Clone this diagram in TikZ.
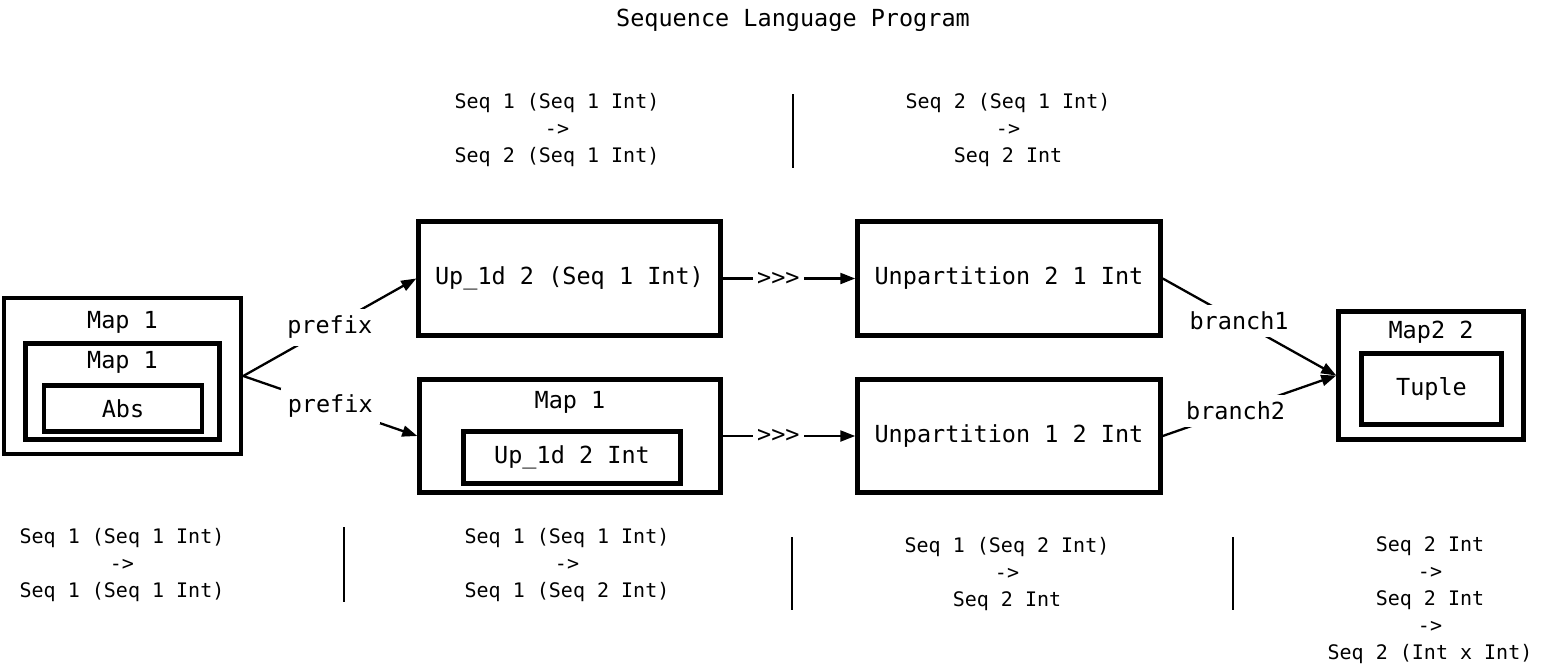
\documentclass[tikz,border=0pt]{standalone}
\usepackage{fontspec}
\newfontfamily\monofam{DejaVu Sans Mono}
\usetikzlibrary{arrows.meta}
\tikzset{
  box/.style={draw=black, line width=4.5pt, rectangle, inner sep=0pt, font=\monofam\fontsize{23.5}{28}\selectfont},
  lbl/.style={inner sep=0pt, font=\monofam\fontsize{23.5}{28}\selectfont},
  conn/.style={line width=2.3pt, -{Triangle[length=15pt,width=11pt]}},
  edgelbl/.style={fill=white, inner sep=7pt, font=\monofam\fontsize{23.5}{28}\selectfont},
  note/.style={align=center, inner sep=0pt, font=\monofam\fontsize{20}{27}\selectfont},
  sep/.style={line width=2pt}
}
\begin{document}
\begin{tikzpicture}[x=1pt,y=-1pt]
\useasboundingbox[fill=white] (0,0) rectangle (1545,672);

\node[lbl] (title) at (793,20) {Sequence Language Program};

% left nested Map boxes
\node[box, minimum width=237pt, minimum height=156pt] (outerMap) at (122.5,376) {};
\node[lbl] (outerMapL) at (122.5,322) {Map 1};
\node[box, minimum width=194pt, minimum height=96pt] (innerMap) at (122.5,391.5) {};
\node[lbl] (innerMapL) at (122.5,362) {Map 1};
\node[box, minimum width=158pt, minimum height=46pt] (abs) at (123,408.5) {Abs};

% upper path
\node[box, minimum width=302pt, minimum height=114pt] (up) at (569.5,278.5) {Up\_1d 2 (Seq 1 Int)};
\node[box, minimum width=303pt, minimum height=114pt] (un21) at (1009,278.5) {Unpartition 2 1 Int};

% lower path
\node[box, minimum width=301pt, minimum height=113pt] (lowMap) at (570,436) {};
\node[lbl] (lowMapL) at (570,402) {Map 1};
\node[box, minimum width=217pt, minimum height=52pt] (upInt) at (572,457.5) {Up\_1d 2 Int};
\node[box, minimum width=303pt, minimum height=113pt] (un12) at (1009,436) {Unpartition 1 2 Int};

% right Map2 box
\node[box, minimum width=185pt, minimum height=128pt] (map2) at (1431,375.5) {};
\node[lbl] (map2L) at (1431,332) {Map2 2};
\node[box, minimum width=140pt, minimum height=71pt] (tuple) at (1431.5,389) {Tuple};

% connectors
\draw[conn] (outerMap.east) -- node[edgelbl] {prefix} (up.west);
\draw[conn] (outerMap.east) -- node[edgelbl] {prefix} (lowMap.west);
\draw[conn] (up.east) -- node[edgelbl, inner sep=4pt, pos=0.42] {>>>} (un21.west);
\draw[conn] (lowMap.east) -- node[edgelbl, inner sep=4pt, pos=0.42] {>>>} (un12.west);
\draw[conn] (un21.east) -- node[edgelbl, pos=0.44] {branch1} (map2.west);
\draw[conn] (un12.east) -- node[edgelbl, pos=0.42] {branch2} (map2.west);

% top annotations
\node[note] (t1) at (557,130) {Seq 1 (Seq 1 Int)\\->\\Seq 2 (Seq 1 Int)};
\node[note] (t2) at (1008,130) {Seq 2 (Seq 1 Int)\\->\\Seq 2 Int};
\coordinate (s0a) at (793,94);
\coordinate (s0b) at (793,168);
\draw[sep] (s0a) -- (s0b);

% bottom annotations
\node[note] (b1) at (122,565) {Seq 1 (Seq 1 Int)\\->\\Seq 1 (Seq 1 Int)};
\node[note] (b2) at (567,565) {Seq 1 (Seq 1 Int)\\->\\Seq 1 (Seq 2 Int)};
\node[note] (b3) at (1007,574) {Seq 1 (Seq 2 Int)\\->\\Seq 2 Int};
\node[note] (b4) at (1430,600) {Seq 2 Int\\->\\Seq 2 Int\\->\\Seq 2 (Int x Int)};
\coordinate (s1a) at (344,527);
\coordinate (s1b) at (344,602);
\coordinate (s2a) at (792,537);
\coordinate (s2b) at (792,610);
\coordinate (s3a) at (1233,537);
\coordinate (s3b) at (1233,610);
\draw[sep] (s1a) -- (s1b);
\draw[sep] (s2a) -- (s2b);
\draw[sep] (s3a) -- (s3b);
\end{tikzpicture}
\end{document}
